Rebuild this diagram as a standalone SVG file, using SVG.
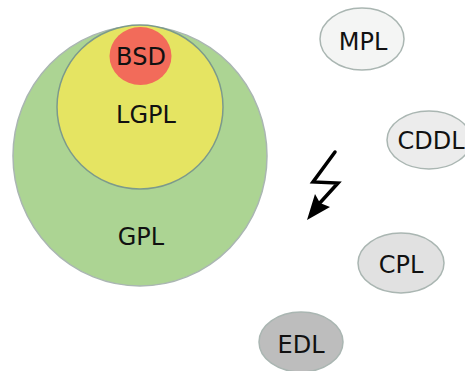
<svg xmlns="http://www.w3.org/2000/svg" width="465" height="371" viewBox="0 0 465 371">
<style>
text{font-family:"DejaVu Sans",sans-serif;font-size:24px;fill:#111;text-anchor:middle}
.n{stroke:#aab6b2;stroke-width:1.5}
</style>
<rect width="465" height="371" fill="#fff"/>
<g id="GPL"><ellipse class="n" cx="140" cy="156" rx="127" ry="130" fill="#acd493"/><text x="141" y="245">GPL</text></g>
<g id="LGPL"><ellipse cx="140" cy="107" rx="83" ry="82" fill="#e5e462" stroke="#7c9a8c" stroke-width="1.5"/><text x="146" y="123">LGPL</text></g>
<g id="BSD"><ellipse cx="140.5" cy="56" rx="31" ry="29" fill="#f26b5a"/><text x="141" y="65">BSD</text></g>
<g id="MPL"><ellipse class="n" cx="362" cy="39" rx="42" ry="31" fill="#f4f5f4"/><text x="363" y="50">MPL</text></g>
<g id="CDDL"><ellipse class="n" cx="429" cy="140" rx="42" ry="29" fill="#ececec"/><text x="431" y="149">CDDL</text></g>
<g id="CPL"><ellipse class="n" cx="401" cy="263" rx="43" ry="30" fill="#e1e1e1"/><text x="401" y="273">CPL</text></g>
<g id="EDL"><ellipse class="n" cx="301" cy="342" rx="42" ry="30" fill="#bdbdbd"/><text x="301" y="353">EDL</text></g>
<g id="connectors"><path d="M335,152 L313,182 L338,183 L318,205" fill="none" stroke="#000" stroke-width="3.5" stroke-linejoin="miter" stroke-linecap="round"/><path d="M307,220 L315,194 L320,203 L330,207 Z" fill="#000"/></g>
</svg>
